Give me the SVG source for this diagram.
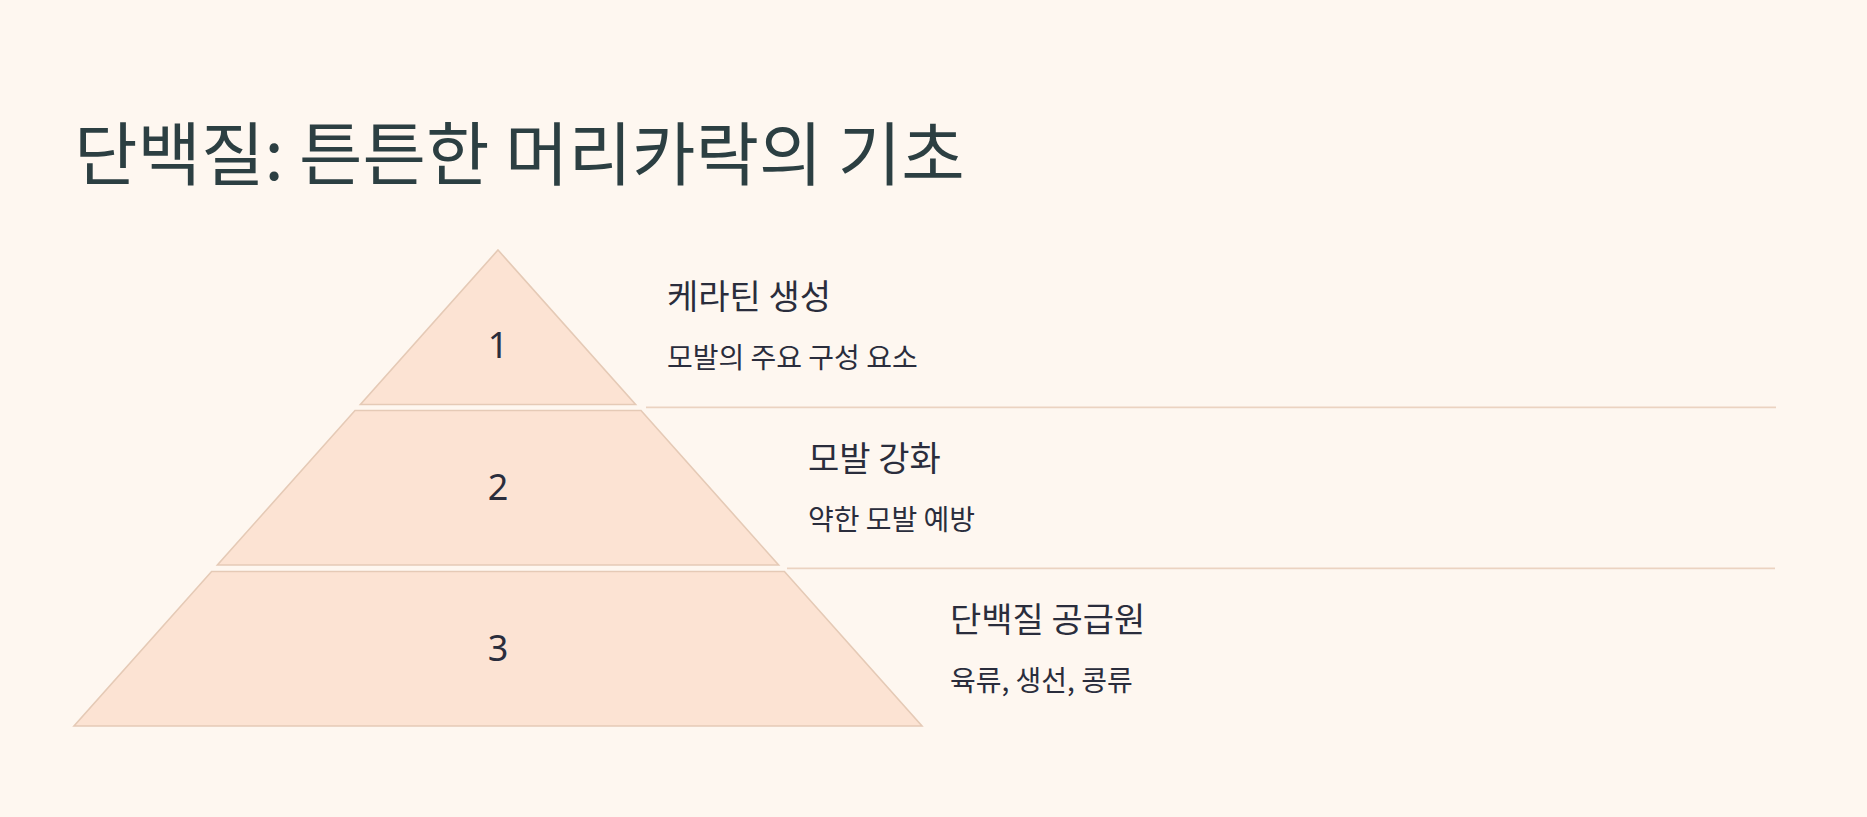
<svg xmlns="http://www.w3.org/2000/svg" width="1867" height="817" viewBox="0 0 1867 817">
<style>
.bg{fill:#fef7f0}
.tier{fill:#fce3d3;stroke:#e5cab6;stroke-width:1.6;stroke-linejoin:miter}
.sep{stroke:#ebd3c1;stroke-width:1.8;fill:none}
.title{font-family:"Noto Sans CJK KR","Noto Sans",sans-serif;font-size:69px;fill:#2c3f42}
.num{font-family:"Noto Sans","Noto Sans CJK KR",sans-serif;font-size:36px;fill:#2a2d3c;text-anchor:middle}
.lbl{font-family:"Noto Sans CJK KR","Noto Sans",sans-serif;font-size:34px;fill:#2a2d3c}
.sub{font-family:"Noto Sans CJK KR","Noto Sans",sans-serif;font-size:28px;fill:#2a2d3c}
</style>
<rect class="bg" x="0" y="0" width="1867" height="817"/>
<text class="title" x="74" y="180">단백질: 튼튼한 머리카락의 기초</text>
<g id="connectors">
<line class="sep" x1="646" y1="407.3" x2="1776" y2="407.3"/>
<line class="sep" x1="787" y1="568.3" x2="1775" y2="568.3"/>
</g>
<g id="tier1">
<polygon class="tier" points="498,250 635.6,404.5 360.4,404.5"/>
<text class="num" x="498" y="358">1</text>
<text class="lbl" x="667" y="309">케라틴 생성</text>
<text class="sub" x="667" y="367.5">모발의 주요 구성 요소</text>
</g>
<g id="tier2">
<polygon class="tier" points="355,410.5 641,410.5 778.6,565 217.4,565"/>
<text class="num" x="498" y="500">2</text>
<text class="lbl" x="808" y="471">모발 강화</text>
<text class="sub" x="808" y="529.5">약한 모발 예방</text>
</g>
<g id="tier3">
<polygon class="tier" points="211.6,571.5 784.4,571.5 922,726 74,726"/>
<text class="num" x="498" y="661">3</text>
<text class="lbl" x="950" y="632">단백질 공급원</text>
<text class="sub" x="950" y="690.5">육류, 생선, 콩류</text>
</g>
</svg>
